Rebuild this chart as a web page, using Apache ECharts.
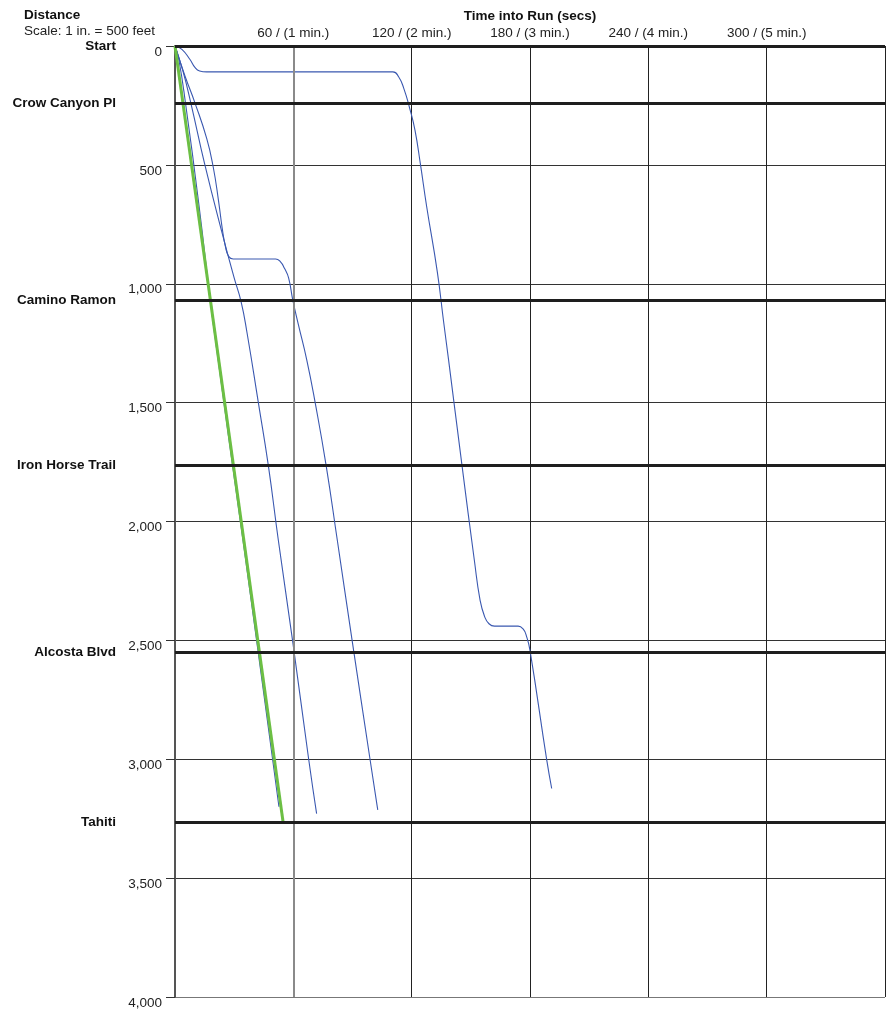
<!DOCTYPE html>
<html>
<head>
<meta charset="utf-8">
<script src="https://cdn.jsdelivr.net/npm/echarts@6/dist/echarts.min.js"></script>
<style>
html,body{margin:0;padding:0;background:#fff;}
#chart{width:892px;height:1009px;}
</style>
</head>
<body>
<div id="chart"></div>
<script>
// ---- data (time in seconds, distance in feet) ----
const timeTicks = [0, 60, 120, 180, 240, 300, 360];
const timeTickLabels = ['', '60 / (1 min.)', '120 / (2 min.)', '180 / (3 min.)', '240 / (4 min.)', '300 / (5 min.)', ''];
const distTicks = [0, 500, 1000, 1500, 2000, 2500, 3000, 3500, 4000];
const distTickLabels = ['0', '500', '1,000', '1,500', '2,000', '2,500', '3,000', '3,500', '4,000'];

const stationNames = ['Start', 'Crow Canyon Pl', 'Camino Ramon', 'Iron Horse Trail', 'Alcosta Blvd', 'Tahiti'];
const stationDist = [0, 242, 1069, 1763, 2550, 3264];

const idealRun = [[0, 0], [54.8, 3264]];
const runA = [[0, 0], [2, 60], [5.4, 245], [12, 660], [19.8, 1194], [35, 2110], [49.5, 3001], [52.7, 3200]];
const runB = [[0, 0], [4, 105], [8.1, 242], [15, 495], [24, 790], [30, 975], [33.5, 1075], [36.5, 1205], [42.2, 1497], [47.3, 1763], [52.4, 2079], [59.6, 2500], [67.8, 3001], [71.8, 3229]];
const runD = [[0, 0], [5.1, 127], [10.1, 239], [16.1, 390], [19.4, 510], [22, 647], [24, 770], [25.6, 845], [27.2, 885], [29.5, 896], [51, 896], [53.5, 908], [55.5, 935], [57.6, 975], [59.7, 1068], [62.5, 1170], [66.8, 1320], [71, 1497], [76.6, 1763], [82.3, 2079], [89.8, 2500], [98.9, 3001], [102.8, 3213]];
const runE = [[0, 0], [3.5, 14], [7.6, 57], [10.1, 90], [12.5, 105], [16, 109], [110.5, 109], [113.3, 128], [116, 178], [119, 262], [121.7, 355], [124.4, 495], [127.6, 675], [133, 950], [136.2, 1160], [138.6, 1313], [145.5, 1763], [151.8, 2164], [154.7, 2332], [157, 2400], [159.2, 2430], [162, 2440], [174, 2440], [176.5, 2452], [178.2, 2482], [180, 2542], [188.5, 3004], [191, 3123]];

const blueRuns = [runA, runB, runD, runE];

// ---- chart ----
const chart = echarts.init(document.getElementById('chart'));
const FONT = '"Liberation Sans", Arial, sans-serif';
const FS = 13.5;
const BLUE = '#3a58b0';

const series = [];
// the 1-minute grid line (gray and heavier)
series.push({
  type: 'line', data: [], z: 1, silent: true,
  markLine: {
    silent: true, symbol: 'none', animation: false,
    label: {show: false},
    lineStyle: {color: '#8a8a8a', width: 2, type: 'solid'},
    data: [{xAxis: timeTicks[1]}]
  }
});
// station lines
series.push({
  type: 'line', data: [], z: 2, silent: true,
  markLine: {
    silent: true, symbol: 'none', animation: false,
    lineStyle: {color: '#1e1e1e', width: 3, type: 'solid'},
    label: {
      show: true, position: 'start', distance: 59,
      fontFamily: FONT, fontSize: FS, fontWeight: 'bold', color: '#111',
      padding: [3, 0, 0, 0],
      formatter: p => p.name
    },
    data: stationDist.map((d, i) => ({name: stationNames[i], yAxis: d}))
  }
});
blueRuns.forEach(run => {
  series.push({
    type: 'line', data: run, z: 3, showSymbol: false, symbol: 'none',
    smooth: 0.5, animation: false,
    lineStyle: {color: BLUE, width: 1.1}
  });
});
series.push({
  type: 'line', data: idealRun, z: 4, showSymbol: false, symbol: 'none',
  animation: false,
  lineStyle: {color: '#6cbf44', width: 3}
});

chart.setOption({
  backgroundColor: '#fff',
  animation: false,
  title: {
    text: 'Distance', subtext: 'Scale: 1 in. = 500 feet',
    left: 24, top: 8, itemGap: 2, padding: 0,
    textStyle: {fontFamily: FONT, fontSize: FS, fontWeight: 'bold', color: '#111'},
    subtextStyle: {fontFamily: FONT, fontSize: FS, color: '#222'}
  },
  grid: {left: 175, right: 7, top: 46, bottom: 12, containLabel: false, outerBoundsMode: 'none'},
  xAxis: {
    type: 'value', position: 'top', min: 0, max: 360, interval: 60,
    name: 'Time into Run (secs)', nameLocation: 'middle', nameGap: 23,
    nameMoveOverlap: false,
    nameTextStyle: {fontFamily: FONT, fontSize: FS, fontWeight: 'bold', color: '#111'},
    axisLine: {show: false},
    axisTick: {show: false},
    axisLabel: {
      margin: 6, fontFamily: FONT, fontSize: FS, color: '#222',
      formatter: v => timeTickLabels[timeTicks.indexOf(v)] || ''
    },
    splitLine: {show: true, lineStyle: {color: '#222', width: 1}}
  },
  yAxis: {
    type: 'value', inverse: true, min: 0, max: 4000, interval: 500,
    axisLine: {show: true, lineStyle: {color: '#555', width: 2}},
    axisTick: {show: true, length: 9, lineStyle: {color: '#333', width: 1}},
    axisLabel: {
      margin: 13, fontFamily: FONT, fontSize: FS, color: '#222',
      verticalAlign: 'top', lineHeight: 12,
      formatter: v => distTickLabels[distTicks.indexOf(v)] || ''
    },
    splitLine: {show: true, lineStyle: {color: ['#333', '#333', '#333', '#333', '#333', '#333', '#333', '#333', '#777'], width: 1}}
  },
  series: series
});
</script>
</body>
</html>
